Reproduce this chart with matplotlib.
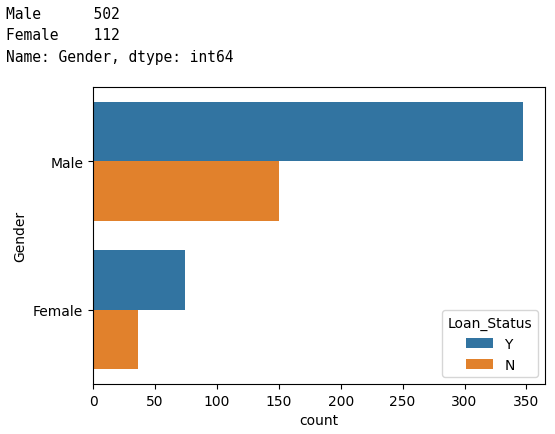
import numpy as np
from matplotlib import pyplot as plt

genders = ["Male", "Female"]
status = ["Y", "N"]
counts_y = [347, 74]
counts_n = [150, 36]
colors = ["#3274a1", "#e1812c"]
printed = "Male      502\nFemale    112\nName: Gender, dtype: int64"

fig = plt.figure(figsize=(5.55, 4.35), dpi=100)
fig.text(0.01, 0.985, printed, family="DejaVu Sans Mono", fontsize=10.5,
         va="top", ha="left", linespacing=1.55)

ax = fig.add_axes([93 / 555, 1 - 385 / 435, 452 / 555, 297 / 435])
y = np.arange(len(genders))
h = 0.4
ax.barh(y - h / 2, counts_y, height=h, color=colors[0], label=status[0])
ax.barh(y + h / 2, counts_n, height=h, color=colors[1], label=status[1])
ax.set_yticks(y)
ax.set_yticklabels(genders)
ax.set_ylim(1.5, -0.5)
ax.set_xlim(0, 365)
ax.set_xticks(range(0, 351, 50))
ax.set_xlabel("count")
ax.set_ylabel("Gender")
ax.legend(title="Loan_Status", loc="lower right")

fig.savefig("out.png", dpi=100)
